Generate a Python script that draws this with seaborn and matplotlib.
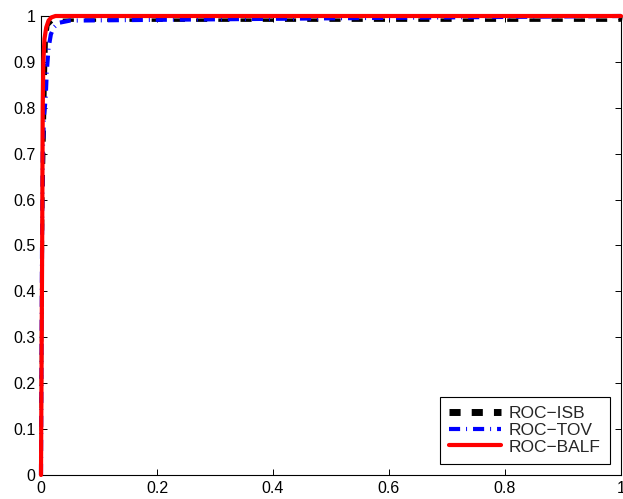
import matplotlib
matplotlib.use("Agg")
import matplotlib.pyplot as plt
import seaborn as sns
import pandas as pd

sns.set_style("white")
plt.rcParams['font.family'] = ['Liberation Sans', 'DejaVu Sans']
plt.rcParams['lines.scale_dashes'] = False

isb_fpr = [0.0, 0.001, 0.003, 0.005, 0.007, 0.009, 0.012, 0.02, 0.05, 0.3, 0.7, 0.999, 1.0]
isb_tpr = [0.0, 0.30, 0.60, 0.72, 0.85, 0.95, 0.98, 0.99, 0.991, 0.991, 0.991, 0.991, 1.0]
tov_fpr = [0.0, 0.001, 0.002, 0.003, 0.005, 0.008, 0.010, 0.013, 0.017, 0.022, 0.03, 0.05, 0.5, 1.0]
tov_tpr = [0.0, 0.30, 0.55, 0.70, 0.78, 0.82, 0.88, 0.93, 0.96, 0.975, 0.985, 0.99, 0.995, 1.0]
balf_fpr = [0.0, 0.002, 0.003, 0.004, 0.006, 0.009, 0.013, 0.018, 0.025, 1.0]
balf_tpr = [0.0, 0.50, 0.80, 0.90, 0.95, 0.975, 0.99, 0.997, 1.0, 1.0]

fig = plt.figure(figsize=(6.23, 4.99), dpi=100)
ax = fig.add_axes([41/623, 24/499, 580/623, 459/499])

def draw(fpr, tpr, label, **kw):
    df = pd.DataFrame({"fpr": fpr, "tpr": tpr})
    sns.lineplot(data=df, x="fpr", y="tpr", ax=ax, sort=False, estimator=None,
                 label=label, clip_on=False, **kw)

draw(isb_fpr, isb_tpr, "ROC\u2212ISB", color="black", lw=2.5, linestyle=(0, (8, 8)))
draw(tov_fpr, tov_tpr, "ROC\u2212TOV", color="blue", lw=3, linestyle=(0, (8, 4.3, 0.7, 4.3)))
draw(balf_fpr, balf_tpr, "ROC\u2212BALF", color="red", lw=3)

ax.set_xlim(0, 1)
ax.set_ylim(0, 1)
ax.set_xticks([0, 0.2, 0.4, 0.6, 0.8, 1])
ax.set_xticklabels(["0", "0.2", "0.4", "0.6", "0.8", "1"])
ax.set_yticks([i/10 for i in range(11)])
ax.set_yticklabels(["0"] + [f"{i/10:g}" for i in range(1, 10)] + ["1"])
ax.set_xlabel("")
ax.set_ylabel("")
ax.tick_params(direction="in", length=4, width=0.7, labelsize=11.5, colors="black",
               bottom=True, left=True, top=True, right=True, pad=4)
for s in ax.spines.values():
    s.set_visible(True)
    s.set_color("black")
    s.set_linewidth(0.8)
    s.set_zorder(1)
leg = ax.legend(loc="lower right", fontsize=12.5, frameon=True, fancybox=False,
                edgecolor="black", borderaxespad=0.63, handlelength=2.95,
                handletextpad=0.46, labelspacing=0.08, borderpad=0.55)
leg.get_frame().set_linewidth(0.8)
leg.get_frame().set_alpha(1)
handles = leg.legend_handles if hasattr(leg, "legend_handles") else leg.legendHandles
handles[0].set_linewidth(5)
fig.savefig("out.png", dpi=100)
